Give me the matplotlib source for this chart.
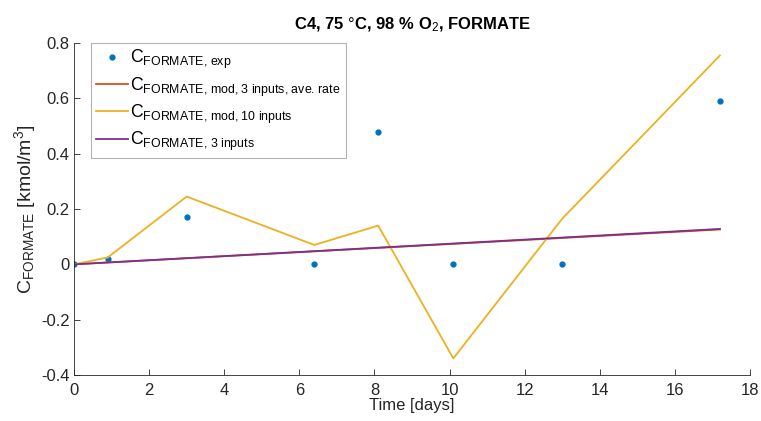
import numpy as np
import matplotlib
matplotlib.use("Agg")
import matplotlib.pyplot as plt

plt.rcParams["font.family"] = ["Liberation Sans", "DejaVu Sans"]
plt.rcParams["mathtext.fontset"] = "custom"
plt.rcParams["mathtext.rm"] = "Liberation Sans"
plt.rcParams["mathtext.it"] = "Liberation Sans:italic"
plt.rcParams["mathtext.bf"] = "Liberation Sans:bold"

# sampling times [days]
t_days = [0, 0.9, 3.0, 6.4, 8.1, 10.1, 13.0, 17.2]
# measured formate concentration
c_exp = [0, 0.02, 0.17, 0, 0.48, 0, 0, 0.59]
# model, 10 inputs
c_mod10 = [0, 0.025, 0.245, 0.07, 0.14, -0.34, 0.165, 0.755]
# model, 3 inputs (average rate) and 3 inputs
t_lin = [0, 17.2]
c_mod3_ave = [0, 0.126]
c_mod3 = [0, 0.128]

blue = "#0072BD"
red = "#D95319"
yellow = "#EDB120"
purple = "#7E2F8E"

fig = plt.figure(figsize=(7.61, 4.21), dpi=100)
ax = fig.add_axes([74 / 761, 1 - 375 / 421, 676 / 761, 332 / 421])

ax.plot(t_days, c_exp, ".", color=blue, markersize=7,
        label=r"C$_{\text{FORMATE, exp}}$")
ax.plot(t_lin, c_mod3_ave, "-", color=red, lw=1.3,
        label=r"C$_{\text{FORMATE, mod, 3 inputs, ave. rate}}$")
ax.plot(t_days, c_mod10, "-", color=yellow, lw=1.3,
        label=r"C$_{\text{FORMATE, mod, 10 inputs}}$")
ax.plot(t_lin, c_mod3, "-", color=purple, lw=1.3,
        label=r"C$_{\text{FORMATE, 3 inputs}}$")

ax.set_xlim(0, 18)
ax.set_ylim(-0.4, 0.8)
ax.set_xticks(np.arange(0, 19, 2))
ax.set_yticks(np.arange(-0.4, 0.81, 0.2))
ax.set_yticklabels(["-0.4", "-0.2", "0", "0.2", "0.4", "0.6", "0.8"])

for side in ["top", "right"]:
    ax.spines[side].set_visible(False)
for side in ["left", "bottom"]:
    ax.spines[side].set_color("#262626")
    ax.spines[side].set_linewidth(0.6)
ax.tick_params(direction="in", length=4, width=0.6, color="#262626",
               labelsize=12, labelcolor="#262626")
ax.tick_params(axis="x", pad=6)
ax.tick_params(axis="y", pad=3)

ax.set_xlabel("Time [days]", fontsize=12, color="#262626", labelpad=0)
ax.set_ylabel(r"C$_{\text{FORMATE}}$ [kmol/m$^3$]", fontsize=14,
              color="#262626", labelpad=2)
ax.set_title(r"C4, 75 $\degree$C, 98 % O$_2$, FORMATE", fontsize=12,
             fontweight="bold", pad=10)

leg = ax.legend(loc="upper left", bbox_to_anchor=(17 / 676, 1.0), fontsize=12.7,
                frameon=True, fancybox=False, edgecolor="#a0a0a0",
                handlelength=1.8, handletextpad=0.1, borderpad=0.3,
                labelspacing=0.22, borderaxespad=0.0)
leg.get_frame().set_linewidth(0.8)

fig.savefig("out.png", dpi=100)
